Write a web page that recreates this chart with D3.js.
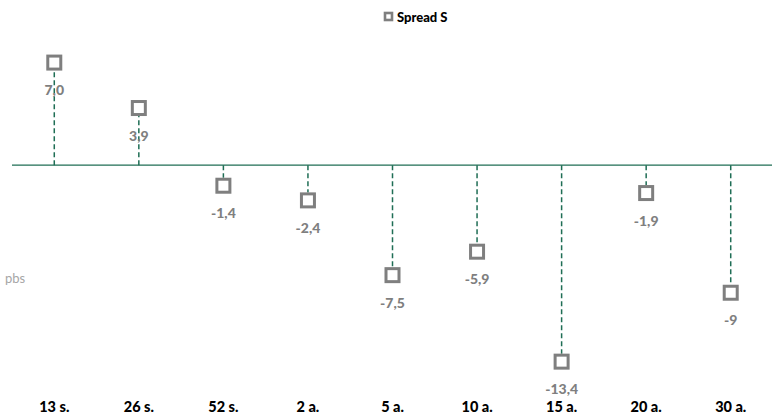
<!DOCTYPE html>
<html>
<head>
<meta charset="utf-8">
<script src="https://cdn.jsdelivr.net/npm/d3@7"></script>
<style>
  html, body { margin: 0; padding: 0; background: #fff; }
  svg { display: block; font-family: Lato, "Open Sans", sans-serif; }
</style>
</head>
<body>
<svg id="chart" width="781" height="414"></svg>
<script>
const categories = ["13 s.", "26 s.", "52 s.", "2 a.", "5 a.", "10 a.", "15 a.", "20 a.", "30 a."];
const spreadValues = [7.0, 3.9, -1.4, -2.4, -7.5, -5.9, -13.4, -1.9, -8.7];
const valueLabels = ["7,0", "3,9", "-1,4", "-2,4", "-7,5", "-5,9", "-13,4", "-1,9", "-9"];
const seriesName = "Spread S";
const unitLabel = "pbs";

const svg = d3.select("#chart");

const x = d3.scaleBand().domain(categories).range([12, 773]).padding(0);
const y = d3.scaleLinear().domain([-15, 10]).range([165.2 + 15 * 14.66, 165.2 - 10 * 14.66]);

const green = "#1f6e55";
const gray = "#7f7f7f";
const mSize = 13;

// zero line
svg.append("line")
  .attr("x1", x.range()[0]).attr("x2", x.range()[1] - 1)
  .attr("y1", y(0)).attr("y2", y(0))
  .attr("stroke", green).attr("stroke-width", 1.3);

const data = categories.map((c, i) => ({ c, v: spreadValues[i], label: valueLabels[i] }));
const cx = d => x(d.c) + x.bandwidth() / 2;

// dashed drop lines
svg.selectAll("line.drop").data(data).enter().append("line")
  .attr("class", "drop")
  .attr("x1", cx).attr("x2", cx)
  .attr("y1", y(0))
  .attr("y2", d => y(d.v) + (d.v >= 0 ? mSize / 2 + 1.5 : -(mSize / 2 + 1.5)))
  .attr("stroke", green).attr("stroke-width", 1.5)
  .attr("stroke-dasharray", "5,3");

// value labels
svg.selectAll("text.val").data(data).enter().append("text")
  .attr("class", "val")
  .attr("x", cx)
  .attr("y", d => y(d.v) + 27)
  .attr("text-anchor", "middle")
  .attr("dominant-baseline", "central")
  .attr("font-size", 14).attr("font-weight", 900)
  .attr("fill", gray)
  .text(d => d.label);

// markers
svg.selectAll("rect.mk").data(data).enter().append("rect")
  .attr("class", "mk")
  .attr("x", d => cx(d) - mSize / 2)
  .attr("y", d => y(d.v) - mSize / 2)
  .attr("width", mSize).attr("height", mSize)
  .attr("fill", "#fff").attr("stroke", gray).attr("stroke-width", 3);

// category labels
svg.selectAll("text.cat").data(categories).enter().append("text")
  .attr("class", "cat")
  .attr("x", d => x(d) + x.bandwidth() / 2)
  .attr("y", 406)
  .attr("text-anchor", "middle")
  .attr("dominant-baseline", "central")
  .attr("font-size", 14.5).attr("font-weight", 900)
  .attr("fill", "#000")
  .text(d => d);

// unit label
svg.append("text")
  .attr("x", 5).attr("y", 278)
  .attr("dominant-baseline", "central")
  .attr("font-size", 13)
  .attr("fill", "#a6a6a6")
  .text(unitLabel);

// legend
const lg = svg.append("g");
lg.append("rect")
  .attr("x", 385).attr("y", 13).attr("width", 7).attr("height", 7)
  .attr("fill", "#fff").attr("stroke", gray).attr("stroke-width", 2.6);
lg.append("text")
  .attr("x", 397).attr("y", 17)
  .attr("dominant-baseline", "central")
  .attr("font-size", 13).attr("font-weight", 900)
  .attr("fill", "#000")
  .text(seriesName);
</script>
</body>
</html>
